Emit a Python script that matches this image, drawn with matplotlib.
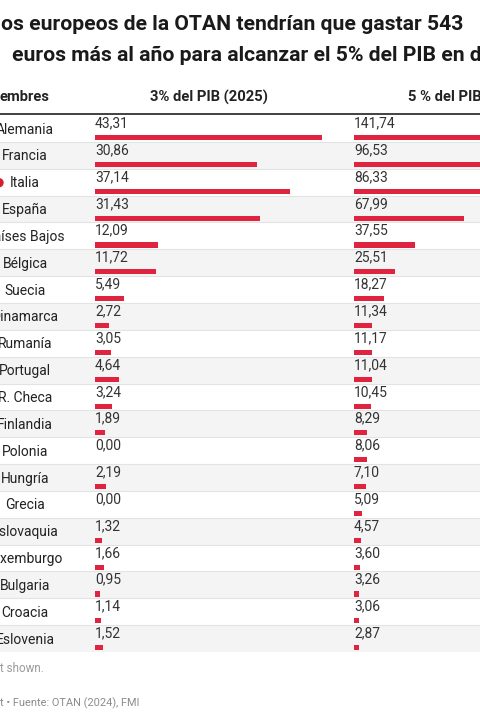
import matplotlib.pyplot as plt
from matplotlib.patches import Circle

plt.rcParams['font.family'] = ['Roboto', 'DejaVu Sans']

countries = ['Alemania', 'Francia', 'Italia', 'España', 'Países Bajos', 'Bélgica',
             'Suecia', 'Dinamarca', 'Rumanía', 'Portugal', 'R. Checa', 'Finlandia',
             'Polonia', 'Hungría', 'Grecia', 'Eslovaquia', 'Luxemburgo', 'Bulgaria',
             'Croacia', 'Eslovenia']
gdp3 = [43.31, 30.86, 37.14, 31.43, 12.09, 11.72, 5.49, 2.72, 3.05, 4.64,
        3.24, 1.89, 0.00, 2.19, 0.00, 1.32, 1.66, 0.95, 1.14, 1.52]
gdp5 = [141.74, 96.53, 86.33, 67.99, 37.55, 25.51, 18.27, 11.34, 11.17, 11.04,
        10.45, 8.29, 8.06, 7.10, 5.09, 4.57, 3.60, 3.26, 3.06, 2.87]
headers = ['embres', '3% del PIB (2025)', '5 % del PIB (2035)']
title1 = 'os europeos de la OTAN tendrían que gastar 543'
title2 = 'euros más al año para alcanzar el 5% del PIB en d'
note = 't shown.'
source = 't • Fuente: OTAN (2024), FMI'

W, H = 480, 720
BAR = '#e0233f'
TOP, ROW = 115, 26.85
n = len(countries)

fig = plt.figure(figsize=(W / 100, H / 100), dpi=100)
ax = fig.add_axes([0, 0, 1, 1])
ax.set_xlim(0, W)
ax.set_ylim(H, 0)
ax.axis('off')

# title (the chart is cropped on both sides)
ax.text(1, 25, title1, fontsize=15.2, fontweight='bold', color='#1a1a1a', va='center')
ax.text(12, 55, title2, fontsize=15.2, fontweight='bold', color='#1a1a1a', va='center')

# header
ax.text(0, 97, headers[0], fontsize=10.6, fontweight='bold', color='#222222', va='center')
ax.text(209, 97, headers[1], fontsize=10.6, fontweight='bold', color='#222222', va='center', ha='center')
ax.text(469, 97, headers[2], fontsize=10.6, fontweight='bold', color='#222222', va='center', ha='center')
ax.plot([0, W], [114, 114], color='#333333', lw=1.3)

# rows
for i, name in enumerate(countries):
    y0 = TOP + i * ROW
    if i % 2 == 1:
        ax.axhspan(y0, y0 + ROW, color='#f4f4f4', lw=0, zorder=0)
    if i > 0:
        ax.plot([0, W], [y0, y0], color='#e3e3e3', lw=0.8, zorder=1)
    ax.text(25, y0 + 14.5, name, fontsize=10, color='#222222', va='center', ha='center')
ax.add_patch(Circle((-1, TOP + 2 * ROW + 14), 4, color='#d61f2c', clip_on=False))

# footer
ax.text(0, 668, note, fontsize=8.4, color='#9a9a9a', va='center')
ax.text(0, 703, source, fontsize=7.9, color='#8c8c8c', va='center')


def bar_column(x_px, width_px, values):
    b = fig.add_axes([x_px / W, 1 - (TOP + n * ROW) / H, width_px / W, n * ROW / H])
    b.set_xlim(0, max(values))
    b.set_ylim(n, 0)
    b.axis('off')
    b.patch.set_alpha(0)
    rows = [i + 0.84 for i in range(n)]
    b.barh(rows, values, height=0.19, color=BAR, zorder=3)
    for i, v in enumerate(values):
        b.text(0, i + 0.31, f'{v:.2f}'.replace('.', ','), fontsize=10,
               color='#333333', va='center', ha='left')
    return b


bar_column(95, 227, gdp3)
bar_column(354, 229.6, gdp5)

fig.savefig('out.png', dpi=100)
